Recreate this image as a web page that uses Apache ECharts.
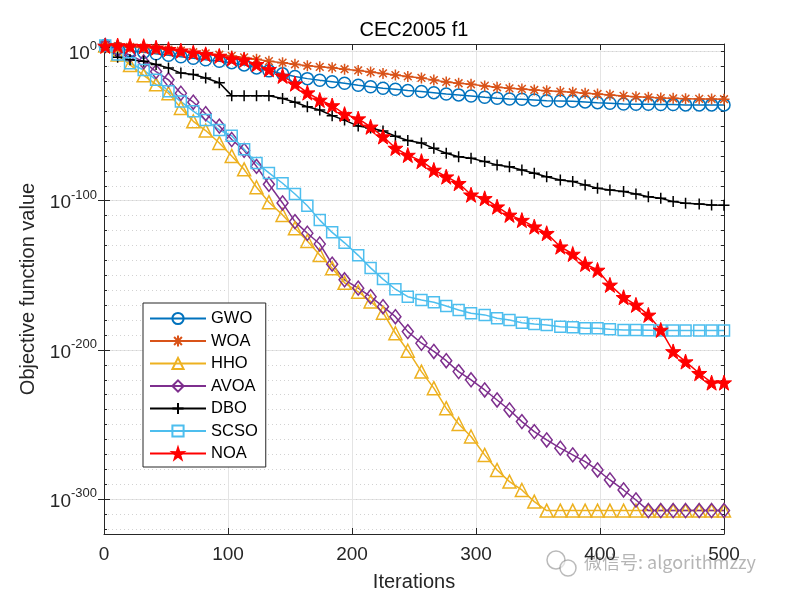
<!DOCTYPE html>
<html>
<head>
<meta charset="utf-8">
<script src="https://cdn.jsdelivr.net/npm/echarts@6/dist/echarts.min.js"></script>
<style>html,body{margin:0;padding:0;background:#fff}#c{width:800px;height:600px}</style>
</head>
<body>
<div id="c"></div>
<script>
// ---- data ----
// iteration positions of the plotted points
const iterations = [1, 11, 21, 32, 42, 52, 62, 72, 82, 93, 103, 113, 123, 133, 144, 154, 164, 174, 184, 194, 205, 215, 225, 235, 245, 256, 266, 276, 286, 296, 307, 317, 327, 337, 347, 357, 368, 378, 388, 398, 408, 419, 429, 439, 449, 459, 469, 480, 490, 500];
// log10 of the objective function value for each algorithm
const gwoLog = [4, 2, 0.5, -0.5, -1.5, -2.5, -3.5, -4.5, -5.5, -6.5, -7.5, -9, -11, -13, -15, -16.8, -18.2, -19.3, -20.3, -21.3, -22.6, -23.6, -24.6, -25.3, -26.1, -26.8, -27.6, -28.5, -29.1, -29.8, -30.7, -31.4, -31.8, -32, -32.5, -33, -33.2, -33.4, -33.8, -34.3, -34.7, -35.2, -35.4, -35.4, -35.6, -35.6, -35.8, -35.8, -35.8, -35.8];
const woaLog = [4, 3.5, 3, 2.5, 2, 1.2, 0.5, -0.5, -1.3, -2.2, -3, -4, -5.2, -6.5, -7.5, -8.6, -9.6, -10.3, -10.9, -11.9, -12.7, -13.8, -14.7, -15.8, -16.7, -17.7, -19.2, -20.4, -21.3, -22, -23.1, -24, -24.7, -25.1, -25.8, -26.3, -26.9, -27.3, -28, -28.5, -29.1, -29.8, -30.3, -30.7, -31.2, -31.4, -31.6, -31.8, -31.8, -32];
const hhoLog = [4, -2, -9, -16, -22, -28, -37.8, -46.8, -53, -61.3, -70, -79, -91, -101, -109.5, -118.4, -127, -136.3, -145.2, -155, -161, -167.5, -175, -188.8, -200.5, -214.5, -225.6, -239, -249.6, -258, -270.3, -280.4, -288.2, -293.8, -301.6, -307.6, -307.6, -307.6, -307.6, -307.6, -307.6, -307.6, -307.6, -307.6, -307.6, -307.6, -307.6, -307.6, -307.6, -307.6];
const avoaLog = [4, 1, -2.5, -7, -13.5, -19, -28, -34, -41.7, -50, -59, -66.3, -77, -89, -101.5, -114, -121.8, -129, -142.5, -153, -158.6, -164.3, -171, -177.7, -187.7, -195.5, -201, -207.2, -214.5, -220, -226.8, -233.5, -240.2, -248, -254.7, -260.3, -265.8, -270.3, -274.8, -280.4, -287.1, -293.8, -300.5, -307.6, -307.6, -307.6, -307.6, -307.6, -307.6, -307.6];
const dboLog = [3, -3.8, -5.5, -6.5, -8.8, -11, -14.5, -15.5, -17.8, -21, -29.6, -29.6, -29.6, -29.6, -31.5, -34, -37, -39.2, -43, -46, -50, -51.3, -53.3, -56.8, -59.6, -61.3, -64.9, -68.2, -70.5, -71.5, -73.8, -76, -77.2, -79.4, -81.6, -83.9, -86.1, -87.2, -89.4, -91.6, -92.8, -93.9, -95.5, -97.3, -98.3, -100.6, -101.7, -102.2, -102.8, -103];
const scsoLog = [4, -2, -7.9, -12.4, -19, -26.7, -33.6, -40, -45.9, -52.6, -56.5, -65.5, -74.7, -81.4, -88.3, -95.5, -103.4, -113, -121.2, -128.2, -136.6, -145, -152.5, -159.3, -164.3, -166.5, -168, -170.5, -173.2, -175.4, -176.5, -178.7, -179.9, -181.7, -182.6, -183.3, -184.4, -184.8, -185.5, -185.5, -186.1, -186.6, -186.6, -186.8, -187, -187, -187, -187, -187, -187];
const noaLog = [3.7, 4, 3.7, 3.5, 2.5, 1.5, 0.5, -0.8, -1.9, -3, -4.8, -5.7, -8.6, -12, -16.4, -21.6, -27.6, -32.5, -36.2, -42, -45, -50.5, -57, -64.7, -69.4, -73.5, -79.4, -83.9, -88.3, -96, -98.4, -104, -109.5, -113, -117.4, -121.8, -130.8, -135.7, -142.4, -146.4, -156.4, -164.7, -169.8, -176.5, -186.6, -201, -207.8, -215.6, -221.9, -221.9];
const seriesNames = ['GWO', 'WOA', 'HHO', 'AVOA', 'DBO', 'SCSO', 'NOA'];
const xTicks = [0, 100, 200, 300, 400, 500];
const yTickExponents = [0, -100, -200, -300];
const yRange = [4.94e-324, 1e5];

// ---- styling ----
const FONT = "'Liberation Sans', Arial, Helvetica, sans-serif";
const AX = '#262626';
const PLUS = 'path://M5 0L5 10M0 5L10 5';
const ASTER = 'path://M5 0L5 10M0 5L10 5M1.5 1.5L8.5 8.5M8.5 1.5L1.5 8.5';
const STAR = 'path://M50 0L61.8 35.1L97.6 34.5L69.1 56.7L79.4 90.5L50 70L20.6 90.5L30.9 56.7L2.4 34.5L38.2 35.1Z';
const styles = {
  GWO:  { data: gwoLog,  color: '#0072BD', symbol: 'circle',   size: 12, fill: false },
  WOA:  { data: woaLog,  color: '#D95319', symbol: ASTER,      size: 11, fill: false },
  HHO:  { data: hhoLog,  color: '#EDB120', symbol: 'triangle', size: 13, fill: false },
  AVOA: { data: avoaLog, color: '#7E2F8E', symbol: 'diamond',  size: [11, 14], fill: false },
  DBO:  { data: dboLog,  color: '#000000', symbol: PLUS,       size: 11, fill: false },
  SCSO: { data: scsoLog, color: '#4DBEEE', symbol: 'rect',     size: 11, fill: false },
  NOA:  { data: noaLog,  color: '#FF0000', symbol: STAR,       size: 15, fill: true }
};

const series = seriesNames.map(name => {
  const s = styles[name];
  return {
    name: name,
    type: 'line',
    xAxisIndex: 0,
    yAxisIndex: 0,
    data: iterations.map((it, i) => [it, Math.pow(10, s.data[i])]),
    symbol: s.symbol,
    symbolSize: s.size,
    showSymbol: true,
    showAllSymbol: true,
    silent: true,
    color: s.color,
    lineStyle: { color: s.color, width: 1.5 },
    itemStyle: {
      color: s.fill ? s.color : 'rgba(255,255,255,0)',
      borderColor: s.color,
      borderWidth: s.fill ? 1 : 1.5
    },
    emphasis: { disabled: true }
  };
});

const logMin = Math.log10(yRange[0]);
const logMax = Math.log10(yRange[1]);

function yLabel(v) {
  const e = Math.round(Math.log10(v));
  if (yTickExponents.indexOf(e) < 0) return '';
  return '{b|10}{s|' + e + '}';
}

const option = {
  animation: false,
  backgroundColor: '#ffffff',
  title: {
    text: 'CEC2005 f1',
    left: 414, top: 20, textAlign: 'center', padding: 0,
    textStyle: { fontFamily: FONT, fontSize: 20, fontWeight: 'normal', color: '#000' }
  },
  grid: { left: 104, right: 76, top: 44, bottom: 66, containLabel: false },
  legend: {
    data: seriesNames,
    orient: 'vertical',
    left: 143, top: 303,
    padding: [7, 8, 5, 6],
    itemWidth: 56, itemHeight: 14, itemGap: 5.5,
    backgroundColor: '#ffffff',
    borderColor: AX, borderWidth: 1, borderRadius: 0,
    textStyle: { fontFamily: FONT, fontSize: 16.5, color: '#000' },
    selectedMode: false
  },
  xAxis: [
    {
      type: 'value', min: xTicks[0], max: xTicks[xTicks.length - 1], interval: 100, position: 'bottom',
      axisLine: { show: true, onZero: false, lineStyle: { color: AX, width: 1 } },
      axisTick: { show: true, inside: true, length: 6, lineStyle: { color: AX } },
      axisLabel: { margin: 11, color: '#262626', fontSize: 19, fontFamily: FONT },
      splitLine: { show: true, lineStyle: { color: '#e4e4e4', width: 1 } },
      name: 'Iterations', nameLocation: 'middle', nameGap: 38,
      nameTextStyle: { fontFamily: FONT, fontSize: 20, color: '#262626' }
    },
    {
      type: 'value', min: xTicks[0], max: xTicks[xTicks.length - 1], interval: 100, position: 'top',
      axisLine: { show: true, onZero: false, lineStyle: { color: AX, width: 1 } },
      axisTick: { show: true, inside: true, length: 6, lineStyle: { color: AX } },
      axisLabel: { show: false }, splitLine: { show: false }
    }
  ],
  yAxis: [
    {
      type: 'log', logBase: 10, min: yRange[0], max: yRange[1], position: 'left',
      axisLine: { show: true, onZero: false, lineStyle: { color: AX, width: 1 } },
      axisTick: { show: true, inside: true, length: 6, lineStyle: { color: AX } },
      axisLabel: {
        show: true, margin: 7, showMinLabel: false, showMaxLabel: false,
        formatter: yLabel,
        rich: {
          b: { fontFamily: FONT, fontSize: 19, color: '#262626', verticalAlign: 'bottom', lineHeight: 24 },
          s: { fontFamily: FONT, fontSize: 13, color: '#262626', verticalAlign: 'top', lineHeight: 24 }
        }
      },
      splitLine: { show: true, lineStyle: { color: '#e4e4e4', width: 1 } },
      name: 'Objective function value', nameLocation: 'middle', nameGap: 66,
      nameTextStyle: { fontFamily: FONT, fontSize: 20, color: '#262626' }
    },
    {
      type: 'value', min: logMin, max: logMax, splitNumber: 33, position: 'left',
      axisLine: { show: false },
      axisTick: { show: true, inside: true, length: 3, lineStyle: { color: AX } },
      axisLabel: { show: false },
      splitLine: { show: true, lineStyle: { color: '#d2d2d2', width: 1, type: [1, 3] } }
    },
    {
      type: 'value', min: logMin, max: logMax, splitNumber: 33, position: 'right',
      axisLine: { show: true, onZero: false, lineStyle: { color: AX, width: 1 } },
      axisTick: { show: true, inside: true, length: 3, lineStyle: { color: AX } },
      axisLabel: { show: false },
      splitLine: { show: false }
    },
    {
      type: 'log', logBase: 10, min: yRange[0], max: yRange[1], position: 'right',
      axisLine: { show: false },
      axisTick: { show: true, inside: true, length: 6, lineStyle: { color: AX } },
      axisLabel: { show: false },
      splitLine: { show: false }
    }
  ],
  graphic: [
    { type: 'circle', shape: { cx: 556, cy: 560, r: 9 }, style: { fill: 'none', stroke: 'rgba(130,130,130,0.55)', lineWidth: 1.5 }, silent: true },
    { type: 'circle', shape: { cx: 568, cy: 568, r: 8 }, style: { fill: 'rgba(255,255,255,0.6)', stroke: 'rgba(130,130,130,0.55)', lineWidth: 1.5 }, silent: true },
    { type: 'text', left: 584, top: 553, silent: true,
      style: { text: '微信号: algorithmzzy', fill: 'rgba(120,120,120,0.55)', font: "18px 'Noto Sans CJK SC', 'Liberation Sans', sans-serif" } }
  ],
  series: series
};

const chart = echarts.init(document.getElementById('c'), null, { renderer: 'canvas' });
chart.setOption(option);
</script>
</body>
</html>
